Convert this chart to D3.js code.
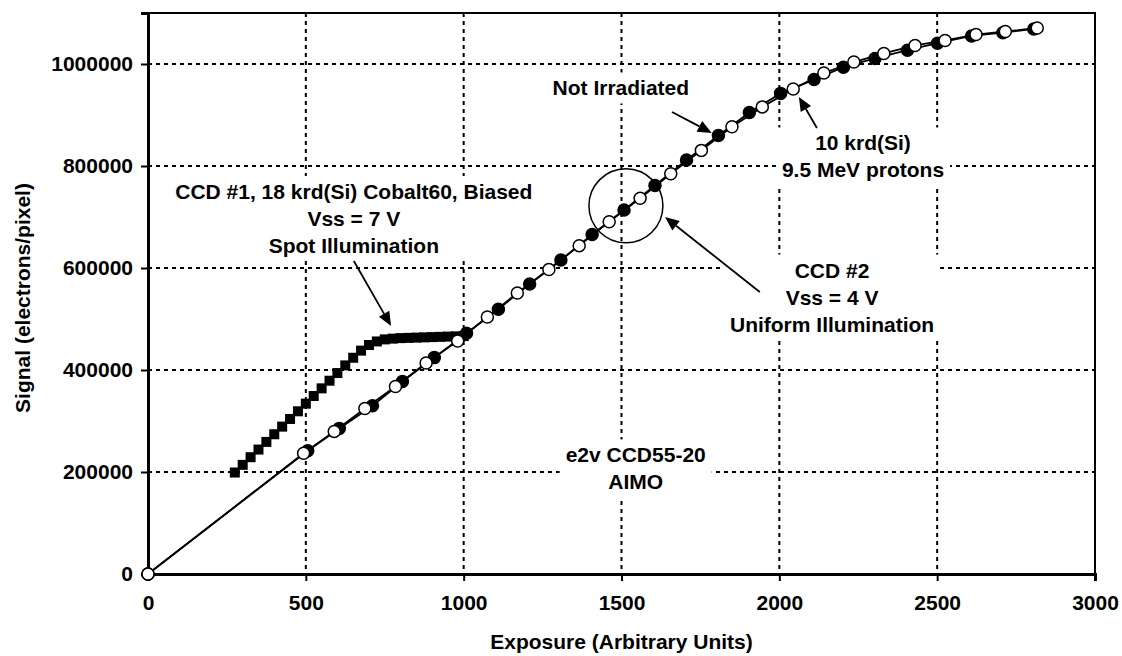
<html>
<head>
<script src="https://d3js.org/d3.v7.min.js"></script>
<style>
  body { margin: 0; background: #fff; }
  text { font-family: Arial, "Liberation Sans", sans-serif; font-weight: bold; fill: #000; }
</style>
</head>
<body>
<script>
// not irradiated (filled circles)
var notIrrX = [0, 506, 606, 711, 806, 907, 1009, 1110, 1209, 1308, 1407, 1508, 1606, 1706, 1807, 1905,
               2004, 2110, 2203, 2303, 2406, 2501, 2609, 2708, 2806];
var notIrrY = [0, 241800, 285500, 329800, 377500, 424300, 472000, 519300, 568700, 615700, 665700, 713800,
               761800, 811800, 859900, 905000, 942400, 969500, 993800, 1010800, 1027100, 1040800, 1055000,
               1061400, 1068700];
// 10 krd(Si) protons (open circles)
var protonX = [0, 493, 590, 687, 784, 881, 981, 1075, 1170, 1270, 1366, 1461, 1559, 1656, 1753, 1850,
               1946, 2044, 2141, 2236, 2331, 2430, 2525, 2623, 2716, 2817];
var protonY = [0, 236700, 279600, 324500, 367500, 413700, 456900, 503900, 551000, 597100, 643800, 690800,
               736700, 784900, 830600, 876900, 915900, 951000, 982400, 1003900, 1020700, 1036300, 1046100,
               1057700, 1063800, 1070700];
// CCD #1 cobalt60, spot illumination (squares)
var spotX = [275, 300, 325, 350, 375, 400, 425, 450, 475, 500, 525, 550, 575, 600, 625, 650, 675, 700,
             725, 750, 775, 800, 825, 850, 875, 900, 925, 950, 975, 1000];
var spotY = [199000, 214000, 229000, 244000, 259000, 274000, 289000, 304000, 319000, 334000, 349000,
             364000, 379000, 394000, 409000, 424000, 438000, 449000, 456000, 460000, 461500, 462500,
             463000, 463500, 464000, 464500, 465000, 465500, 466000, 466500];

var xTicks = [0, 500, 1000, 1500, 2000, 2500, 3000];
var yTicks = [0, 200000, 400000, 600000, 800000, 1000000];

var labels = [
  {lines: ["CCD #1, 18 krd(Si) Cobalt60, Biased", "Vss = 7 V", "Spot Illumination"], x: 652, y: 697000},
  {lines: ["Not Irradiated"], x: 1498, y: 953000},
  {lines: ["10 krd(Si)", "9.5 MeV protons"], x: 2265, y: 818700},
  {lines: ["CCD #2", "Vss = 4 V", "Uniform Illumination"], x: 2167, y: 543000},
  {lines: ["e2v CCD55-20", "AIMO"], x: 1545, y: 207000}
];
// arrows: [x1, y1, x2 (tip), y2 (tip)]
var arrows = [
  [1660, 906000, 1786, 864800],
  [2119, 874600, 2062, 935400],
  [652, 613800, 770, 486300],
  [1938, 553000, 1638, 700000]
];
var ring = {x: 1514, y: 722000};

var width = 1122, height = 656;
var svg = d3.select('body').append('svg')
    .attr('width', width).attr('height', height);
svg.append('rect').attr('width', width).attr('height', height).attr('fill', '#fff');

var x = d3.scaleLinear().domain([0, 3000]).range([148, 1095]);
var y = d3.scaleLinear().domain([0, 1100000]).range([574, 13]);

// grid
var grid = svg.append('g').attr('stroke', '#000').attr('stroke-width', 2).attr('stroke-dasharray', '4,4');
grid.selectAll('.h').data(yTicks.slice(1)).enter().append('line')
    .attr('x1', x(0)).attr('x2', x(3000))
    .attr('y1', d => y(d)).attr('y2', d => y(d));
grid.selectAll('.v').data(xTicks.slice(1, -1)).enter().append('line')
    .attr('y1', y(1100000)).attr('y2', y(0))
    .attr('x1', d => x(d)).attr('x2', d => x(d));

var boxes = svg.append('g');
var marks = svg.append('g');
var notes = svg.append('g');

// squares
var sq = 10;
marks.selectAll('.sq').data(spotX).enter().append('rect')
    .attr('x', (d, i) => x(d) - sq / 2)
    .attr('y', (d, i) => y(spotY[i]) - sq / 2)
    .attr('width', sq).attr('height', sq)
    .attr('fill', '#000');

var line = d3.line().x(d => x(d[0])).y(d => y(d[1]));
var notIrr = notIrrX.map((d, i) => [d, notIrrY[i]]);
var proton = protonX.map((d, i) => [d, protonY[i]]);

marks.append('path').attr('d', line(notIrr))
    .attr('fill', 'none').attr('stroke', '#000').attr('stroke-width', 1.8);
marks.append('path').attr('d', line(proton))
    .attr('fill', 'none').attr('stroke', '#000').attr('stroke-width', 1.8);

marks.selectAll('.f').data(notIrr).enter().append('circle')
    .attr('cx', d => x(d[0])).attr('cy', d => y(d[1])).attr('r', 6)
    .attr('fill', '#000').attr('stroke', '#000').attr('stroke-width', 1.5);
marks.selectAll('.o').data(proton).enter().append('circle')
    .attr('cx', d => x(d[0])).attr('cy', d => y(d[1])).attr('r', 6)
    .attr('fill', '#fff').attr('stroke', '#000').attr('stroke-width', 1.5);

// ring around the crossing
notes.append('circle').attr('cx', x(ring.x)).attr('cy', y(ring.y)).attr('r', 37)
    .attr('fill', 'none').attr('stroke', '#000').attr('stroke-width', 1.5);

// arrows
arrows.forEach(function (a) {
  var x1 = x(a[0]), y1 = y(a[1]), x2 = x(a[2]), y2 = y(a[3]);
  var ang = Math.atan2(y2 - y1, x2 - x1);
  var hl = 14, hw = 6;
  var bx = x2 - hl * Math.cos(ang), by = y2 - hl * Math.sin(ang);
  notes.append('line').attr('x1', x1).attr('y1', y1).attr('x2', bx).attr('y2', by)
      .attr('stroke', '#000').attr('stroke-width', 1.8);
  var pts = [[x2, y2],
             [bx + hw * Math.sin(ang), by - hw * Math.cos(ang)],
             [bx - hw * Math.sin(ang), by + hw * Math.cos(ang)]];
  notes.append('polygon').attr('points', pts.map(p => p.join(',')).join(' ')).attr('fill', '#000');
});

// text labels with white boxes behind
labels.forEach(function (l) {
  var g = notes.append('g');
  var n = l.lines.length;
  l.lines.forEach(function (t, i) {
    g.append('text')
        .attr('x', x(l.x))
        .attr('y', y(l.y) + (i - (n - 1) / 2) * 27)
        .attr('text-anchor', 'middle')
        .attr('dominant-baseline', 'central')
        .style('font-size', '21px')
        .text(t);
  });
  var b = g.node().getBBox();
  boxes.append('rect')
      .attr('x', b.x - 6).attr('y', b.y - 4)
      .attr('width', b.width + 12).attr('height', b.height + 8)
      .attr('fill', '#fff');
});

// plot border
svg.append('rect').attr('x', x(0)).attr('y', y(1100000))
    .attr('width', x(3000) - x(0)).attr('height', y(0) - y(1100000))
    .attr('fill', 'none').attr('stroke', '#000').attr('stroke-width', 2);

// axes
var xAxis = svg.append('g').attr('transform', 'translate(0,' + y(0) + ')')
    .call(d3.axisBottom(x).tickValues(xTicks).tickSize(7).tickPadding(14).tickFormat(d3.format('d')));
var yAxis = svg.append('g').attr('transform', 'translate(' + x(0) + ',0)')
    .call(d3.axisLeft(y).tickValues(yTicks).tickSize(7).tickPadding(8).tickFormat(d3.format('d')));
[xAxis, yAxis].forEach(function (a) {
  a.select('.domain').attr('stroke-width', 3);
  a.selectAll('.tick line').attr('stroke-width', 2);
  a.selectAll('text').style('font-size', '21px').style('font-family', 'Arial, "Liberation Sans", sans-serif')
      .style('font-weight', 'bold');
});

// redraw origin marker above the axes
svg.append('circle').attr('cx', x(0)).attr('cy', y(0)).attr('r', 6)
    .attr('fill', '#fff').attr('stroke', '#000').attr('stroke-width', 1.5);

svg.append('text').attr('x', (x(0) + x(3000)) / 2).attr('y', 641)
    .attr('text-anchor', 'middle').attr('dominant-baseline', 'central')
    .style('font-size', '21px').text('Exposure (Arbitrary Units)');
svg.append('text')
    .attr('transform', 'translate(22,298) rotate(-90)')
    .attr('text-anchor', 'middle').attr('dominant-baseline', 'central')
    .style('font-size', '21px').text('Signal (electrons/pixel)');
</script>
</body>
</html>
